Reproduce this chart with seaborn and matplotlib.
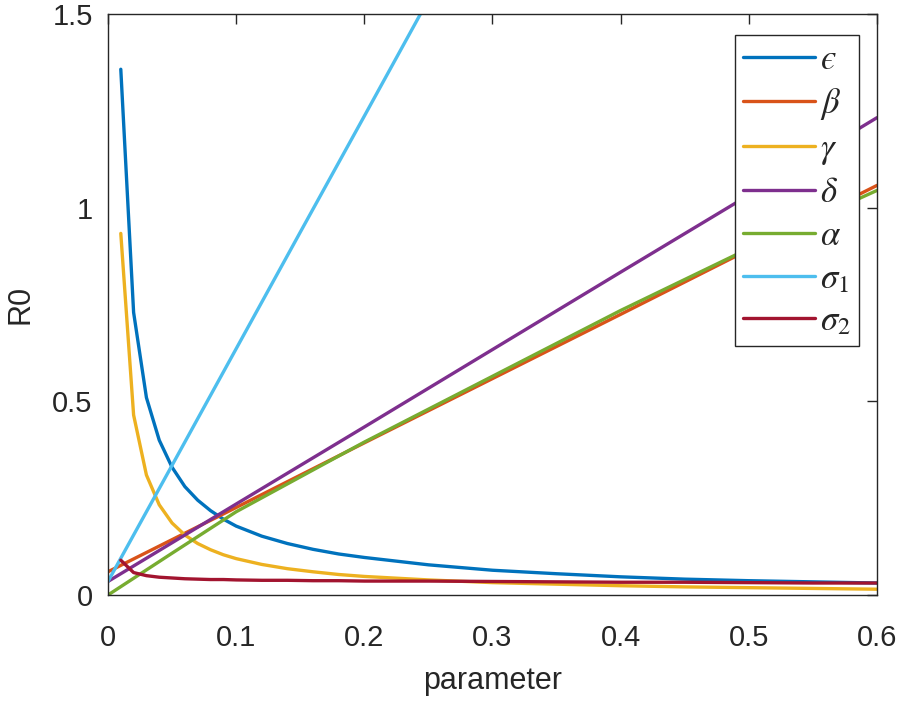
import numpy as np
import pandas as pd
import matplotlib
matplotlib.use("Agg")
import matplotlib.pyplot as plt
import seaborn as sns

# parameter grid for the decaying curves
x_dec = [0.01, 0.02, 0.03, 0.04, 0.05, 0.06, 0.07, 0.08, 0.09, 0.10, 0.12, 0.14,
         0.16, 0.18, 0.20, 0.25, 0.30, 0.35, 0.40, 0.45, 0.50, 0.55, 0.60]
eps_r0 = [1.358, 0.73, 0.51, 0.40, 0.33, 0.28, 0.245, 0.218, 0.196, 0.178, 0.152, 0.133,
          0.118, 0.106, 0.097, 0.078, 0.064, 0.055, 0.047, 0.041, 0.037, 0.034, 0.031]
gamma_r0 = [0.934, 0.465, 0.31, 0.233, 0.186, 0.155, 0.133, 0.117, 0.104, 0.094, 0.079, 0.068,
            0.060, 0.053, 0.048, 0.039, 0.032, 0.028, 0.024, 0.021, 0.019, 0.017, 0.015]
sigma2_r0 = [0.090, 0.058, 0.050, 0.046, 0.044, 0.042, 0.041, 0.040, 0.040, 0.039, 0.038, 0.038,
             0.037, 0.037, 0.036, 0.036, 0.035, 0.034, 0.033, 0.033, 0.032, 0.031, 0.031]

# parameter grid for the increasing curves
x_lin = [0.0, 0.1, 0.2, 0.3, 0.4, 0.5, 0.6]
beta_r0 = [0.060, 0.226, 0.393, 0.559, 0.725, 0.892, 1.058]
delta_r0 = [0.035, 0.235, 0.434, 0.634, 0.834, 1.033, 1.233]

x_alpha = [0.0, 0.05, 0.1, 0.15, 0.2, 0.25, 0.3, 0.35, 0.4, 0.45, 0.5, 0.55, 0.6]
alpha_r0 = [0.0, 0.108, 0.215, 0.305, 0.395, 0.48, 0.565, 0.65, 0.735, 0.815, 0.895, 0.97, 1.045]

x_sig1 = [0.0, 0.05, 0.1, 0.15, 0.2, 0.25]
sigma1_r0 = [0.035, 0.335, 0.636, 0.937, 1.237, 1.538]

series = [
    ('$\u03f5$', x_dec, eps_r0, '#0072BD'),
    (r'$\beta$', x_lin, beta_r0, '#D95319'),
    (r'$\gamma$', x_dec, gamma_r0, '#EDB120'),
    (r'$\delta$', x_lin, delta_r0, '#7E2F8E'),
    (r'$\alpha$', x_alpha, alpha_r0, '#77AC30'),
    (r'$\sigma_1$', x_sig1, sigma1_r0, '#4DBEEE'),
    (r'$\sigma_2$', x_dec, sigma2_r0, '#A2142F'),
]

sns.set_style("white")
plt.rcParams['font.family'] = ['Liberation Sans', 'DejaVu Sans']
plt.rcParams['mathtext.fontset'] = 'stix'

fig = plt.figure(figsize=(9.02, 7.03), dpi=100)
ax = fig.add_axes([0.1197, 0.1536, 0.8526, 0.8261])

for name, xs, ys, col in series:
    df = pd.DataFrame({'parameter': xs, 'R0': ys})
    sns.lineplot(data=df, x='parameter', y='R0', color=col, linewidth=2.4,
                 label=name, sort=False, estimator=None, ax=ax)

ax.set_xlim(0, 0.6)
ax.set_ylim(0, 1.5)
ax.set_xticks([0, 0.1, 0.2, 0.3, 0.4, 0.5, 0.6])
ax.set_xticklabels(['0', '0.1', '0.2', '0.3', '0.4', '0.5', '0.6'])
ax.set_yticks([0, 0.5, 1, 1.5])
ax.set_yticklabels(['0', '0.5', '1', '1.5'])
ax.tick_params(direction='in', length=7, width=1, colors='#262626', labelsize=21,
               top=True, right=True)
ax.tick_params(axis='x', pad=21)
ax.tick_params(axis='y', pad=11)
for s in ax.spines.values():
    s.set_visible(True)
    s.set_color('#262626')
    s.set_linewidth(1)
ax.set_xlabel('parameter', fontsize=22, color='#262626', labelpad=10)
ax.set_ylabel('R0', fontsize=22, color='#262626', labelpad=12)

leg = ax.legend(loc='upper right', bbox_to_anchor=(0.977, 0.965), fontsize=25,
                frameon=True, fancybox=False, handlelength=2.05, handletextpad=0.15,
                labelspacing=0.28, borderpad=0.25, borderaxespad=0)
leg.get_frame().set_edgecolor('#262626')
leg.get_frame().set_linewidth(1)
leg.get_frame().set_alpha(1)

fig.savefig('out.png', dpi=100)
